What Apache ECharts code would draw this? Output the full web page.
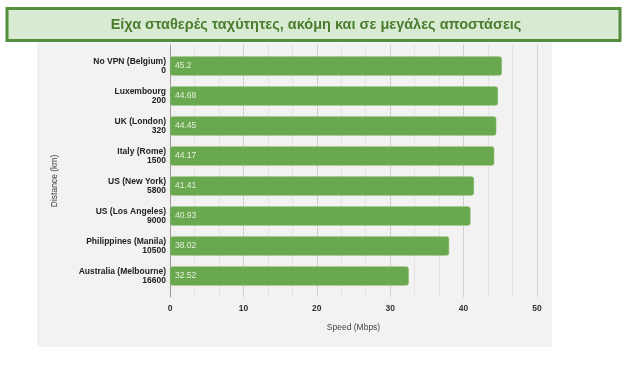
<!DOCTYPE html>
<html><head><meta charset="utf-8">
<script src="https://cdn.jsdelivr.net/npm/echarts@6/dist/echarts.min.js"></script>
<style>html,body{margin:0;padding:0;background:#fff}#c{width:634px;height:366px}</style>
</head><body><div id="c"></div>
<script>
const titleText = 'Είχα σταθερές ταχύτητες, ακόμη και σε μεγάλες αποστάσεις';
const locations = ['No VPN (Belgium)', 'Luxembourg', 'UK (London)', 'Italy (Rome)', 'US (New York)', 'US (Los Angeles)', 'Philippines (Manila)', 'Australia (Melbourne)'];
const distances = ['0', '200', '320', '1500', '5800', '9000', '10500', '16600'];
const speeds = [45.2, 44.68, 44.45, 44.17, 41.41, 40.93, 38.02, 32.52];
const xTicks = [0, 10, 20, 30, 40, 50];
const xName = 'Speed (Mbps)';
const yName = 'Distance (km)';

const categories = locations.map((l, i) => l + '\n' + distances[i]);
const FONT = '"Liberation Sans", Arial, sans-serif';
const chart = echarts.init(document.getElementById('c'), null, {renderer: 'canvas'});
chart.setOption({
  animation: false,
  backgroundColor: '#ffffff',
  graphic: [
    {type: 'rect', z: -10, shape: {x: 37, y: 40, width: 515, height: 307}, style: {fill: '#f2f2f2'}},
    {type: 'rect', z: 10, shape: {x: 7, y: 8.5, width: 613, height: 32}, style: {fill: '#d9ead3', stroke: '#538f3c', lineWidth: 3}},
    {type: 'text', z: 11, x: 316, y: 24.5, style: {text: titleText, font: 'bold 14.5px ' + FONT, fill: '#4a7d2f', textAlign: 'center', textVerticalAlign: 'middle'}},
    {type: 'text', z: 5, rotation: Math.PI / 2, x: 55, y: 181, style: {text: yName, font: '8.5px ' + FONT, fill: '#444', textAlign: 'center', textVerticalAlign: 'middle'}}
  ],
  grid: [
    {left: 170, right: 97, top: 45, bottom: 69},
    {left: 170, right: 97, top: 51, bottom: 75}
  ],
  xAxis: [
    {gridIndex: 0, type: 'value', min: 0, max: 50, interval: 10,
     axisLine: {show: false}, axisTick: {show: false},
     axisLabel: {show: true, margin: 7, fontSize: 8.5, fontWeight: 'bold', color: '#333', fontFamily: FONT, formatter: v => xTicks.includes(v) ? String(v) : ''},
     splitLine: {show: true, lineStyle: {color: '#cfcfcf', width: 1}},
     minorTick: {show: false, splitNumber: 3},
     minorSplitLine: {show: true, lineStyle: {color: '#e3e3e3', width: 1}},
     name: xName, nameLocation: 'middle', nameGap: 26,
     nameTextStyle: {fontSize: 8.5, color: '#444', fontFamily: FONT}},
    {gridIndex: 1, type: 'value', min: 0, max: 50, interval: 10, show: false}
  ],
  yAxis: [
    {gridIndex: 0, type: 'value', min: 0, max: 1, show: true,
     axisLine: {show: true, lineStyle: {color: '#9a9a9a', width: 1}},
     axisTick: {show: false}, axisLabel: {show: false}, splitLine: {show: false}},
    {gridIndex: 1, type: 'category', data: categories, inverse: true,
     axisLine: {show: false}, axisTick: {show: false}, splitLine: {show: false},
     axisLabel: {margin: 4, fontSize: 8.5, fontWeight: 'bold', color: '#222', lineHeight: 9.5, fontFamily: FONT, align: 'right'}}
  ],
  series: [{
    type: 'bar', xAxisIndex: 1, yAxisIndex: 1,
    data: speeds, barWidth: 19,
    itemStyle: {color: '#6aa84f', borderRadius: 2, borderColor: '#78b55d', borderWidth: 0.6},
    label: {show: true, position: 'insideLeft', distance: 5, fontSize: 8.5, color: '#e6f0de', fontFamily: FONT}
  }]
});
</script></body></html>
